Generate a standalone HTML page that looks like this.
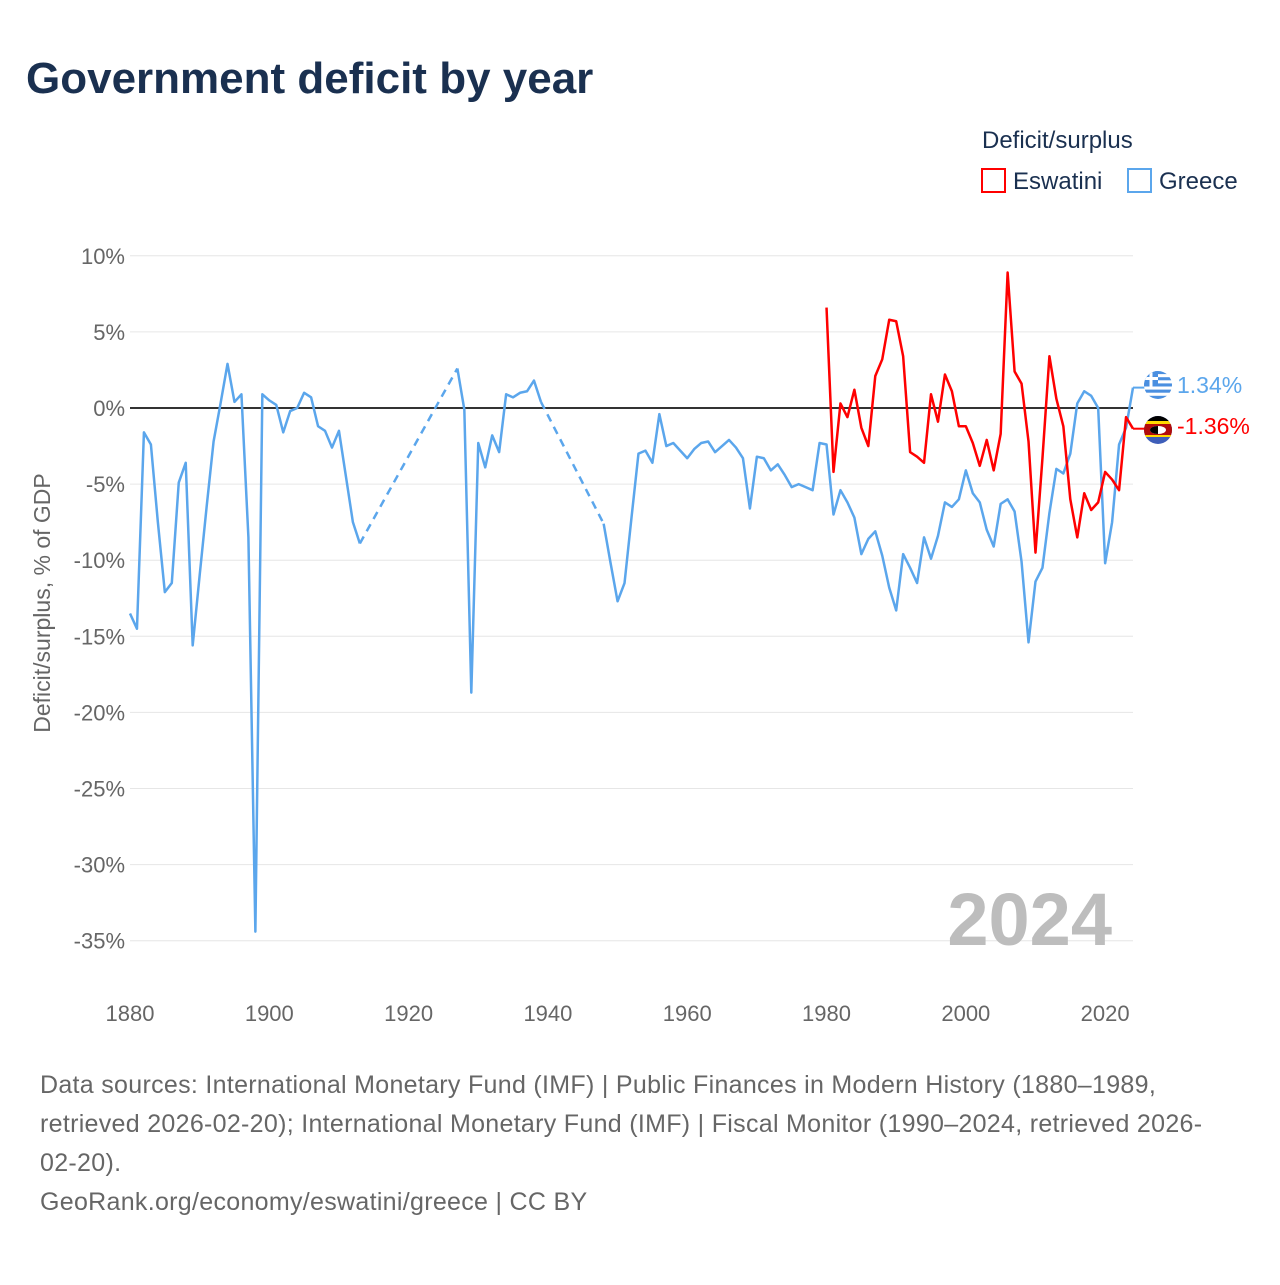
<!DOCTYPE html>
<html><head><meta charset="utf-8">
<style>
body{margin:0;background:#fff;width:1280px;height:1280px;overflow:hidden;font-family:"Liberation Sans",sans-serif;}
svg text{font-family:"Liberation Sans",sans-serif;}
</style></head>
<body>
<svg id="chart" width="1280" height="1280" viewBox="0 0 1280 1280" xmlns="http://www.w3.org/2000/svg">
<text x="26" y="93" font-size="44" font-weight="bold" fill="#1a3050">Government deficit by year</text>
<text x="982" y="148" font-size="24" fill="#1a3050">Deficit/surplus</text>
<g><rect x="982" y="169" width="23" height="23" fill="none" stroke="#ff0000" stroke-width="2"/><text x="1013" y="189" font-size="24" fill="#1a3050">Eswatini</text></g>
<g><rect x="1128" y="169" width="23" height="23" fill="none" stroke="#5ba6ec" stroke-width="2"/><text x="1159" y="189" font-size="24" fill="#1a3050">Greece</text></g>
<g id="grid"></g>
<g id="yticks"></g>
<g id="xticks"></g>
<text transform="translate(50,603) rotate(-90)" text-anchor="middle" font-size="23" fill="#666">Deficit/surplus, % of GDP</text>
<text x="1112" y="945" text-anchor="end" font-size="74" font-weight="bold" fill="#bdbdbd">2024</text>
<g id="series"></g>
<g>
<clipPath id="cg"><circle cx="1158" cy="385" r="14"/></clipPath>
<g clip-path="url(#cg)"><rect x="1144" y="371" width="28" height="28" fill="#fff"/>
<rect x="1144" y="371" width="28" height="3.1" fill="#4a8fe0"/><rect x="1144" y="377.2" width="28" height="3.1" fill="#4a8fe0"/><rect x="1144" y="383.4" width="28" height="3.1" fill="#4a8fe0"/><rect x="1144" y="389.6" width="28" height="3.1" fill="#4a8fe0"/><rect x="1144" y="395.8" width="28" height="3.2" fill="#4a8fe0"/>
<rect x="1144" y="371" width="14" height="15.5" fill="#4a8fe0"/><rect x="1144" y="377" width="14" height="3" fill="#fff"/><rect x="1149.5" y="371" width="3" height="15.5" fill="#fff"/></g></g>
<g>
<clipPath id="ce"><circle cx="1158" cy="430" r="14"/></clipPath>
<g clip-path="url(#ce)"><rect x="1144" y="416" width="28" height="28" fill="#3e5eb9"/><rect x="1144" y="421" width="28" height="4" fill="#ffd900"/><rect x="1144" y="424" width="28" height="12" fill="#b10c0c"/><rect x="1144" y="435" width="28" height="2" fill="#ffd900"/><rect x="1144" y="416" width="28" height="5" fill="#000"/>
<ellipse cx="1158" cy="430" rx="8" ry="4" fill="#fff"/><path d="M1150 430 A8 4 0 0 0 1158 434 L1158 426 A8 4 0 0 0 1150 430Z" fill="#000"/></g></g>
<text x="1177" y="393" font-size="23" fill="#5ba6ec">1.34%</text>
<text x="1177" y="434" font-size="23" fill="#ff0000">-1.36%</text>
<g font-size="25" letter-spacing="0.3" fill="#666">
<text x="40" y="1093">Data sources: International Monetary Fund (IMF) | Public Finances in Modern History (1880–1989,</text>
<text x="40" y="1132">retrieved 2026-02-20); International Monetary Fund (IMF) | Fiscal Monitor (1990–2024, retrieved 2026-</text>
<text x="40" y="1171">02-20).</text>
<text x="40" y="1210">GeoRank.org/economy/eswatini/greece | CC BY</text>
</g>
</svg>
<script>
const yTicks = [10, 5, 0, -5, -10, -15, -20, -25, -30, -35];
const xTicks = [1880, 1900, 1920, 1940, 1960, 1980, 2000, 2020];
const greeceStart = 1880;
const greeceValues = [-13.5,-14.5,-1.6,-2.4,-7.5,-12.1,-11.5,-4.9,-3.6,-15.6,
-11,-6.5,-2.2,0.3,2.9,0.4,0.9,-8.5,-34.4,0.9,
0.5,0.2,-1.6,-0.2,0,1.0,0.7,-1.2,-1.5,-2.6,
-1.5,-4.5,-7.5,-8.9,null,null,null,null,null,null,
null,null,null,null,null,null,null,2.6,-0.1,-18.7,
-2.3,-3.9,-1.8,-2.9,0.9,0.7,1.0,1.1,1.8,0.4,
null,null,null,null,null,null,null,null,-7.6,-10.2,
-12.7,-11.5,-7.2,-3.0,-2.8,-3.6,-0.4,-2.5,-2.3,-2.8,
-3.3,-2.7,-2.3,-2.2,-2.9,-2.5,-2.1,-2.6,-3.3,-6.6,
-3.2,-3.3,-4.1,-3.7,-4.4,-5.2,-5.0,-5.2,-5.4,-2.3,
-2.4,-7.0,-5.4,-6.2,-7.2,-9.6,-8.6,-8.1,-9.7,-11.8,
-13.3,-9.6,-10.5,-11.5,-8.5,-9.9,-8.4,-6.2,-6.5,-6.0,
-4.1,-5.6,-6.2,-8.0,-9.1,-6.3,-6.0,-6.8,-10.1,-15.4,
-11.4,-10.5,-6.9,-4.0,-4.3,-3.0,0.3,1.1,0.8,0.0,
-10.2,-7.5,-2.4,-1.3,1.34];
const eswatiniStart = 1980;
const eswatiniValues = [6.6,-4.2,0.3,-0.6,1.2,-1.3,-2.5,2.1,3.2,5.8,
5.7,3.4,-2.9,-3.2,-3.6,0.9,-0.9,2.2,1.1,-1.2,
-1.2,-2.3,-3.8,-2.1,-4.1,-1.7,8.9,2.4,1.6,-2.2,
-9.5,-3.3,3.4,0.6,-1.2,-6.0,-8.5,-5.6,-6.7,-6.2,
-4.2,-4.7,-5.4,-0.6,-1.36];

const NS='http://www.w3.org/2000/svg';
const X0=130, X1=1133, YMIN=1880, YMAX=2024;
const sx = yr => X0 + (yr-YMIN)*(X1-X0)/(YMAX-YMIN);
const sy = v => 408 - v*15.22;
function mk(tag, attrs, parent){const e=document.createElementNS(NS,tag);for(const k in attrs)e.setAttribute(k,attrs[k]);parent.appendChild(e);return e;}
const grid=document.getElementById('grid'), yt=document.getElementById('yticks'), xt=document.getElementById('xticks'), ser=document.getElementById('series');
yTicks.forEach(v=>{
  if(v!==0){const g=mk('line',{x1:X0,x2:X1,y1:sy(v),y2:sy(v),stroke:'#e6e6e6','stroke-width':1},grid);
  
  }
  const t=mk('text',{x:125,y:sy(v)+8,'text-anchor':'end','font-size':22,fill:'#666'},yt);
  
  
  t.textContent=v+'%';
});
xTicks.forEach(yr=>{
  const t=mk('text',{x:sx(yr),y:1021,'text-anchor':'middle','font-size':22,fill:'#666'},xt);
  
  
  t.textContent=yr;
});
const zl=mk('line',{x1:X0,x2:X1,y1:sy(0),y2:sy(0),stroke:'#333','stroke-width':2},grid);



function drawSeries(start, vals, color, name, endX){
  let segs=[], cur=[], dashes=[], last=null;
  vals.forEach((v,i)=>{
    const yr=start+i;
    if(v===null){ if(cur.length){segs.push(cur);cur=[];} return; }
    const p=[sx(yr),sy(v)];
    if(!cur.length && last && yr-last.yr>1) dashes.push([last.p,p]);
    cur.push(p); last={yr,p};
  });
  if(cur.length) segs.push(cur);
  segs.forEach(s=>{
    const pl=mk('polyline',{points:s.map(p=>p.join(',')).join(' '),fill:'none',stroke:color,'stroke-width':2.5,'stroke-linejoin':'round'},ser);
    
    
  });
  dashes.forEach(d=>{
    const dl=mk('line',{x1:d[0][0],y1:d[0][1],x2:d[1][0],y2:d[1][1],stroke:color,'stroke-width':2.5,'stroke-dasharray':'8,6'},ser);
    
    
  });
  const lp=last.p;
  const c=mk('line',{x1:lp[0],y1:lp[1],x2:endX,y2:lp[1],stroke:color,'stroke-width':2},ser);
  
  
}
drawSeries(greeceStart, greeceValues, '#5ba6ec', 'greece', 1146);
drawSeries(eswatiniStart, eswatiniValues, '#ff0000', 'eswatini', 1146);
</script>
</body></html>
